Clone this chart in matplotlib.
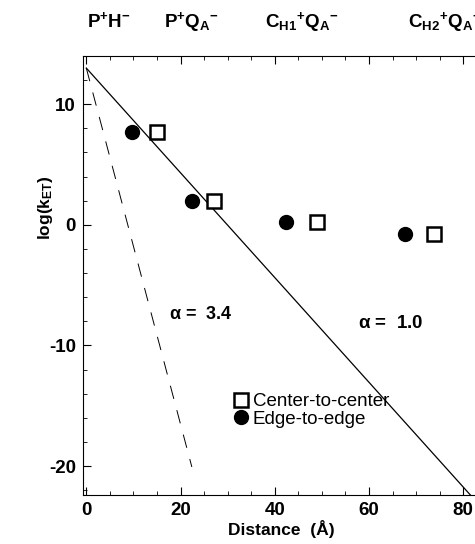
import numpy as np
import matplotlib.pyplot as plt
from matplotlib.ticker import MultipleLocator

plt.rcParams['font.family'] = ['Liberation Sans', 'DejaVu Sans']
plt.rcParams['mathtext.fontset'] = 'custom'
plt.rcParams['mathtext.rm'] = 'Liberation Sans:bold'
plt.rcParams['mathtext.bf'] = 'Liberation Sans:bold'
plt.rcParams['mathtext.it'] = 'Liberation Sans:bold'
plt.rcParams['mathtext.default'] = 'rm'
plt.rcParams['axes.unicode_minus'] = False

# data
center_dist = [15.0, 27.0, 48.9, 73.8]
edge_dist = [9.6, 22.5, 42.4, 67.7]
log_k = [7.7, 2.0, 0.25, -0.8]
state_labels = [r'P$^{+}$H$^{-}$', r'P$^{+}$Q$_{A}$$^{-}$',
                r'C$_{H1}$$^{+}$Q$_{A}$$^{-}$', r'C$_{H2}$$^{+}$Q$_{A}$$^{-}$']
state_x = [4.7, 22.3, 45.7, 76.0]
log_k0 = 13.0
alphas = [1.0, 3.4]

fig = plt.figure(figsize=(4.75, 5.44), dpi=100)
ax = fig.add_axes([83 / 475, 49 / 544, 1 - 83 / 475 + 0.01, (495 - 56) / 544])

# alpha lines: log k = log k0 - alpha * R / ln(10)
r1 = np.array([0, 82])
ax.plot(r1, log_k0 - alphas[0] * r1 / np.log(10), color='black', lw=0.9)
r2 = np.array([0, 22.4])
ax.plot(r2, log_k0 - alphas[1] * r2 / np.log(10), color='black', lw=0.7,
        dashes=(14, 12))

ax.plot(center_dist, log_k, 's', ms=9.5, mfc='white', mec='black', mew=1.8,
        label='Center-to-center')
ax.plot(edge_dist, log_k, 'o', ms=10, color='black', label='Edge-to-edge')

ax.text(17.5, -7.4, r'$\mathregular{\alpha}$ =  3.4', fontsize=13,
        fontweight='bold', ha='left', va='center')
ax.text(57.6, -8.2, r'$\mathregular{\alpha}$ =  1.0', fontsize=13.5,
        fontweight='bold', ha='left', va='center')

for sx, lab in zip(state_x, state_labels):
    ax.text(sx, 1.066, lab, transform=ax.get_xaxis_transform(), fontsize=13.5,
            fontweight='bold', ha='center', va='baseline')

ax.legend(loc='upper left', bbox_to_anchor=(0.345, 0.253), frameon=False,
          fontsize=13.5, handletextpad=0.05, labelspacing=0.0, borderpad=0,
          handlelength=1.2)

ax.set_xlim(-0.7, 83.5)
ax.set_ylim(-22.4, 14.0)
ax.xaxis.set_major_locator(MultipleLocator(20))
ax.xaxis.set_minor_locator(MultipleLocator(5))
ax.yaxis.set_major_locator(MultipleLocator(10))
ax.yaxis.set_minor_locator(MultipleLocator(2))
ax.tick_params(which='both', direction='in', top=True, right=False)
ax.tick_params(which='major', length=6, labelsize=13.5, pad=5)
ax.tick_params(which='minor', length=3)
for lab in ax.get_xticklabels() + ax.get_yticklabels():
    lab.set_fontweight('bold')
ax.spines['right'].set_visible(False)

ax.set_xlabel('Distance  (Å)', fontsize=12.5, fontweight='bold', labelpad=1)
ax.set_ylabel(r'log(k$_{ET}$)', fontsize=12.5, fontweight='bold')
ax.yaxis.set_label_coords(-0.07, (1.4 + 22.4) / 36.4)

fig.savefig('out.png', dpi=100)
